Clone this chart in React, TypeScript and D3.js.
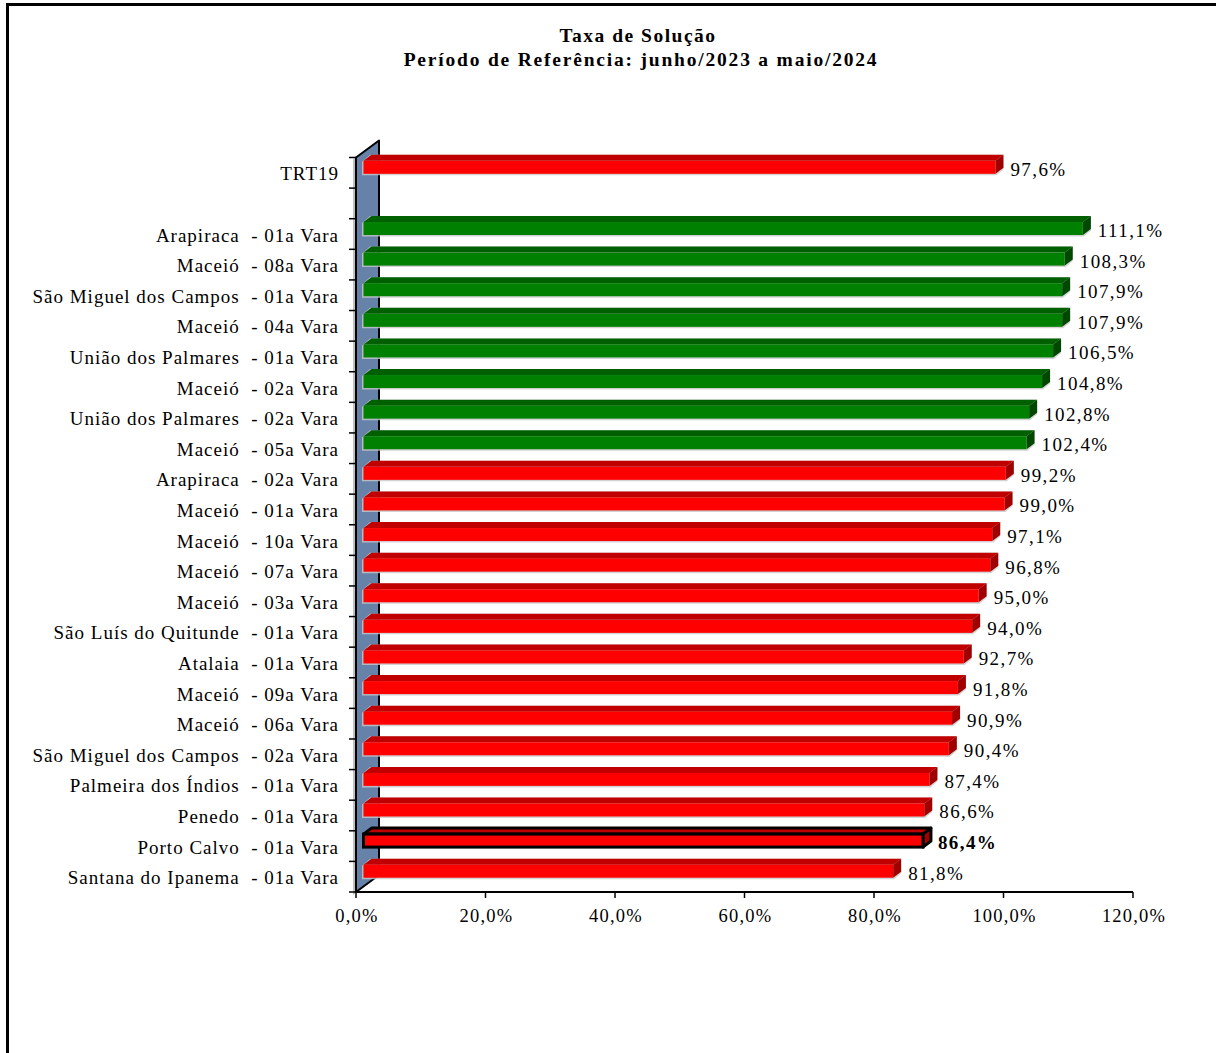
import React from "react";
import * as d3 from "d3";

const categories = [
  "TRT19",
  "",
  "Arapiraca  - 01a Vara",
  "Maceió  - 08a Vara",
  "São Miguel dos Campos  - 01a Vara",
  "Maceió  - 04a Vara",
  "União dos Palmares  - 01a Vara",
  "Maceió  - 02a Vara",
  "União dos Palmares  - 02a Vara",
  "Maceió  - 05a Vara",
  "Arapiraca  - 02a Vara",
  "Maceió  - 01a Vara",
  "Maceió  - 10a Vara",
  "Maceió  - 07a Vara",
  "Maceió  - 03a Vara",
  "São Luís do Quitunde  - 01a Vara",
  "Atalaia  - 01a Vara",
  "Maceió  - 09a Vara",
  "Maceió  - 06a Vara",
  "São Miguel dos Campos  - 02a Vara",
  "Palmeira dos Índios  - 01a Vara",
  "Penedo  - 01a Vara",
  "Porto Calvo  - 01a Vara",
  "Santana do Ipanema  - 01a Vara",
];

const values: (number | null)[] = [
  97.6, null, 111.1, 108.3, 107.9, 107.9, 106.5, 104.8, 102.8, 102.4, 99.2, 99.0,
  97.1, 96.8, 95.0, 94.0, 92.7, 91.8, 90.9, 90.4, 87.4, 86.6, 86.4, 81.8,
];

const highlighted = "Porto Calvo  - 01a Vara";
const xTicks = [0, 20, 40, 60, 80, 100, 120];
const title = "Taxa de Solução";
const subtitle = "Período de Referência: junho/2023 a maio/2024";

const fmt = (v: number) => d3.format(".1f")(v).replace(".", ",") + "%";

export default function App() {
  const W = 1216;
  const H = 1053;
  const x = d3.scaleLinear().domain([0, 120]).range([356, 1133]);
  const y = d3
    .scaleBand<number>()
    .domain(d3.range(categories.length))
    .range([157.5, 892])
    .padding(0);
  const bw = y.bandwidth();
  const wallDX = 23;
  const wallDY = -17;
  const fX = 7.5;
  const fY = -5.5;
  const dX = 8;
  const dY = -6;
  const bh = 13;
  const x0 = x(0);
  const yTop = y.range()[0];
  const yBot = y.range()[1];
  const font = "'Liberation Serif', 'Times New Roman', serif";

  const pts = (p: [number, number][]) => p.map((q) => q.join(",")).join(" ");

  return (
    <svg
      width={W}
      height={H}
      style={{ position: "absolute", left: 0, top: 0, background: "#fff" }}
      fontFamily={font}
    >
      <rect x={0} y={0} width={W} height={H} fill="#fff" />
      <path d={`M7.5,${H} V4.5 H${W}`} fill="none" stroke="#000" strokeWidth={3} />

      <text x={638} y={35} textAnchor="middle" dominantBaseline="central" fontWeight="bold" fontSize={19.5} letterSpacing={1.5}>
        {title}
      </text>
      <text x={641} y={59} textAnchor="middle" dominantBaseline="central" fontWeight="bold" fontSize={19.5} letterSpacing={1.8}>
        {subtitle}
      </text>

      {/* wall shadow */}
      <polygon
        points={pts([
          [x0 - 3, yTop + 2],
          [x0 + wallDX - 3, yTop + wallDY + 2],
          [x0 + wallDX - 3, yBot + wallDY + 3],
          [x0 - 3, yBot + 3],
        ])}
        fill="#c0c0c0"
      />
      {/* wall */}
      <polygon
        points={pts([
          [x0, yTop],
          [x0 + wallDX, yTop + wallDY],
          [x0 + wallDX, yBot + wallDY],
          [x0, yBot],
        ])}
        fill="#6682a8"
        stroke="#000"
        strokeWidth={2}
        strokeLinejoin="round"
      />

      {/* category ticks */}
      {d3.range(categories.length + 1).map((i) => {
        const yy = i < categories.length ? (y(i) as number) : yBot;
        return <line key={"ct" + i} x1={x0 - 7} x2={x0} y1={yy} y2={yy} stroke="#000" strokeWidth={1.5} />;
      })}

      {/* category labels */}
      {categories.map((c, i) =>
        c ? (
          <text
            key={"cl" + i}
            x={339}
            y={(y(i) as number) + bw / 2 + 1}
            textAnchor="end"
            dominantBaseline="central"
            fontSize={19}
            letterSpacing={1.0}
            style={{ whiteSpace: "pre" }}
          >
            {c}
          </text>
        ) : null
      )}

      {/* bars */}
      {values.map((v, i) => {
        if (v == null) return null;
        const green = v >= 100;
        const hl = categories[i] === highlighted;
        const front = green ? "#008000" : "#ff0000";
        const top = green ? "#006000" : "#c00000";
        const side = green ? "#004800" : "#a00000";
        const cy = (y(i) as number) + bw / 2 + fY;
        const fy0 = cy - bh / 2;
        const fy1 = cy + bh / 2;
        const bx0 = x0 + fX;
        const bx1 = x(v) + fX;
        const stroke = hl ? "#000" : "none";
        const sw = hl ? 3 : 0;
        return (
          <g key={"b" + i}>
            {!hl && (
              <polygon
                points={pts([
                  [bx0 - 1.5, fy0 + 1],
                  [bx0 - 1.5 + dX, fy0 + dY],
                  [bx1 + dX, fy0 + dY],
                  [bx1 + dX, fy1 + dY + 1.5],
                  [bx1 + 1, fy1 + 1.5],
                  [bx0 - 1.5, fy1 + 1.5],
                ])}
                fill="#c8c8c8"
                opacity={0.8}
              />
            )}
            <polygon
              points={pts([
                [bx0, fy0],
                [bx0 + dX, fy0 + dY],
                [bx1 + dX, fy0 + dY],
                [bx1, fy0],
              ])}
              fill={top}
              stroke={stroke}
              strokeWidth={sw}
              strokeLinejoin="round"
            />
            <polygon
              points={pts([
                [bx1, fy0],
                [bx1 + dX, fy0 + dY],
                [bx1 + dX, fy1 + dY],
                [bx1, fy1],
              ])}
              fill={side}
              stroke={stroke}
              strokeWidth={sw}
              strokeLinejoin="round"
            />
            <rect x={bx0} y={fy0} width={bx1 - bx0} height={bh} fill={front} stroke={stroke} strokeWidth={sw} />
            <text
              x={bx1 + dX + 7}
              y={cy + 2}
              dominantBaseline="central"
              fontSize={19}
              letterSpacing={1.4}
              fontWeight={hl ? "bold" : "normal"}
            >
              {fmt(v)}
            </text>
          </g>
        );
      })}

      {/* x axis */}
      <line x1={x0} x2={x(120)} y1={yBot} y2={yBot} stroke="#000" strokeWidth={2} />
      {xTicks.map((t) => (
        <g key={"xt" + t}>
          <line x1={x(t)} x2={x(t)} y1={yBot} y2={yBot + 6} stroke="#000" strokeWidth={1.5} />
          <text
            x={x(t) + 1}
            y={916}
            textAnchor="middle"
            dominantBaseline="central"
            fontSize={18.5}
            letterSpacing={1.2}
          >
            {fmt(t)}
          </text>
        </g>
      ))}
    </svg>
  );
}
